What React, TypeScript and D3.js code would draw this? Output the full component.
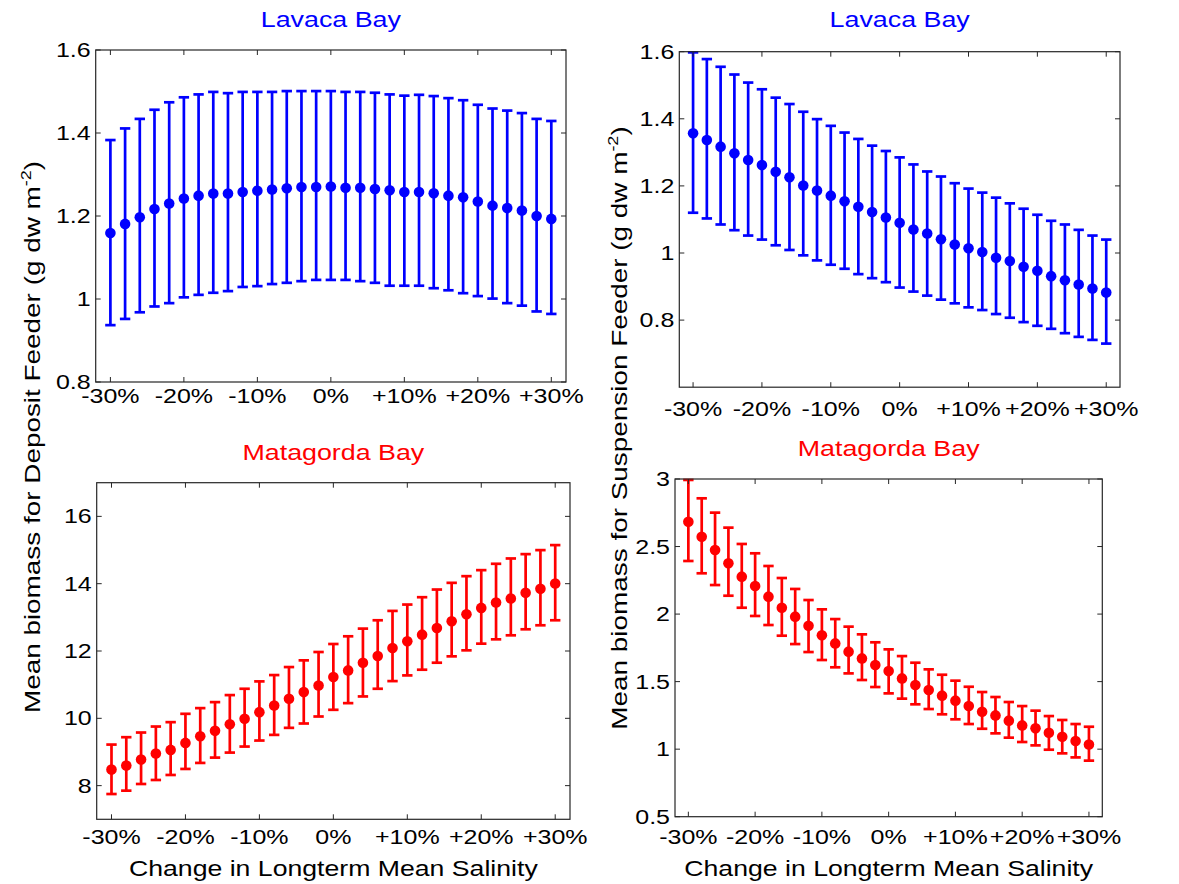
import React from "react";
import * as d3 from "d3";

const salinityChange = [-30, -28, -26, -24, -22, -20, -18, -16, -14, -12, -10, -8, -6, -4, -2, 0, 2, 4, 6, 8, 10, 12, 14, 16, 18, 20, 22, 24, 26, 28, 30];
const xTickValues = [-30, -20, -10, 0, 10, 20, 30];
const xTickLabels = ["-30%", "-20%", "-10%", "0%", "+10%", "+20%", "+30%"];

// Lavaca Bay – deposit feeder
const lavacaDepMean = [1.159, 1.181, 1.197, 1.217, 1.230, 1.242, 1.249, 1.254, 1.254, 1.258, 1.261, 1.264, 1.267, 1.270, 1.270, 1.271, 1.268, 1.268, 1.265, 1.262, 1.258, 1.258, 1.255, 1.249, 1.245, 1.235, 1.225, 1.219, 1.213, 1.200, 1.193];
const lavacaDepHigh = [1.383, 1.411, 1.434, 1.456, 1.474, 1.486, 1.493, 1.499, 1.496, 1.499, 1.499, 1.499, 1.501, 1.501, 1.501, 1.501, 1.499, 1.499, 1.497, 1.493, 1.490, 1.492, 1.489, 1.484, 1.479, 1.468, 1.459, 1.454, 1.448, 1.434, 1.429];
const lavacaDepLow = [0.937, 0.952, 0.968, 0.982, 0.990, 1.004, 1.010, 1.015, 1.019, 1.029, 1.031, 1.036, 1.039, 1.043, 1.046, 1.046, 1.046, 1.043, 1.039, 1.032, 1.032, 1.032, 1.026, 1.021, 1.014, 1.007, 1.001, 0.990, 0.984, 0.970, 0.964];

// Lavaca Bay – suspension feeder
const lavacaSusMean = [1.357, 1.337, 1.317, 1.297, 1.277, 1.262, 1.242, 1.226, 1.201, 1.186, 1.171, 1.154, 1.138, 1.122, 1.106, 1.090, 1.070, 1.058, 1.041, 1.025, 1.014, 1.003, 0.986, 0.976, 0.959, 0.947, 0.931, 0.919, 0.906, 0.894, 0.882];
const lavacaSusHigh = [1.598, 1.578, 1.555, 1.532, 1.508, 1.488, 1.463, 1.444, 1.421, 1.399, 1.379, 1.359, 1.340, 1.320, 1.304, 1.285, 1.264, 1.243, 1.228, 1.208, 1.192, 1.180, 1.165, 1.148, 1.132, 1.114, 1.096, 1.085, 1.069, 1.052, 1.040];
const lavacaSusLow = [1.120, 1.103, 1.085, 1.068, 1.052, 1.040, 1.023, 1.009, 0.993, 0.978, 0.965, 0.953, 0.937, 0.925, 0.913, 0.897, 0.885, 0.873, 0.861, 0.850, 0.838, 0.830, 0.818, 0.807, 0.794, 0.783, 0.774, 0.761, 0.750, 0.741, 0.730];

// Matagorda Bay – deposit feeder
const mataDepMean = [8.476, 8.595, 8.774, 8.953, 9.062, 9.270, 9.469, 9.628, 9.826, 9.985, 10.183, 10.382, 10.580, 10.779, 10.977, 11.226, 11.424, 11.652, 11.851, 12.089, 12.288, 12.486, 12.685, 12.883, 13.092, 13.280, 13.439, 13.558, 13.727, 13.846, 14.005];
const mataDepHigh = [9.220, 9.439, 9.578, 9.756, 9.886, 10.134, 10.303, 10.481, 10.690, 10.878, 11.097, 11.285, 11.523, 11.722, 11.970, 12.208, 12.437, 12.665, 12.913, 13.191, 13.380, 13.598, 13.826, 14.025, 14.223, 14.402, 14.591, 14.749, 14.878, 14.997, 15.146];
const mataDepLow = [7.751, 7.851, 8.049, 8.168, 8.317, 8.496, 8.675, 8.833, 8.982, 9.161, 9.340, 9.508, 9.717, 9.846, 10.054, 10.253, 10.451, 10.650, 10.878, 11.106, 11.275, 11.444, 11.652, 11.841, 12.020, 12.218, 12.347, 12.466, 12.645, 12.764, 12.913];

// Matagorda Bay – suspension feeder
const mataSusMean = [2.684, 2.573, 2.474, 2.376, 2.277, 2.208, 2.129, 2.047, 1.981, 1.914, 1.843, 1.783, 1.722, 1.672, 1.623, 1.578, 1.524, 1.475, 1.438, 1.396, 1.359, 1.319, 1.277, 1.250, 1.211, 1.176, 1.154, 1.122, 1.092, 1.060, 1.035];
const mataSusHigh = [2.993, 2.857, 2.751, 2.640, 2.519, 2.450, 2.356, 2.267, 2.186, 2.104, 2.035, 1.963, 1.907, 1.850, 1.791, 1.739, 1.689, 1.640, 1.591, 1.551, 1.507, 1.462, 1.423, 1.386, 1.349, 1.319, 1.285, 1.245, 1.216, 1.186, 1.166];
const mataSusLow = [2.393, 2.302, 2.215, 2.136, 2.047, 1.986, 1.919, 1.840, 1.778, 1.719, 1.660, 1.606, 1.561, 1.512, 1.460, 1.413, 1.374, 1.332, 1.297, 1.258, 1.221, 1.186, 1.151, 1.117, 1.085, 1.053, 1.028, 0.996, 0.969, 0.939, 0.915];

const yTicksLavacaDep = [0.8, 1, 1.2, 1.4, 1.6];
const yTicksLavacaSus = [0.8, 1, 1.2, 1.4, 1.6];
const yTicksMataDep = [8, 10, 12, 14, 16];
const yTicksMataSus = [0.5, 1, 1.5, 2, 2.5, 3];

const FONT = "'Liberation Sans', Arial, Helvetica, sans-serif";
const SX = 1.22;

type PanelProps = {
  x0: number; x1: number; y0: number; y1: number;
  yDomain: [number, number];
  yTicks: number[];
  mean: number[]; high: number[]; low: number[];
  color: string;
  title: string;
  titleY: number;
  xLabelY: number;
};

function Panel(p: PanelProps) {
  const x = d3.scaleLinear().domain([-32, 32]).range([p.x0, p.x1]);
  const y = d3.scaleLinear().domain(p.yDomain).range([p.y1, p.y0]);
  const tl = 5;
  const axisColor = "#262626";
  const cap = 5.2;
  return (
    <g>
      {salinityChange.map((s, i) => {
        const cx = x(s);
        return (
          <g key={i} stroke={p.color} strokeWidth={2.7} fill="none">
            <line x1={cx} x2={cx} y1={y(p.low[i])} y2={y(p.high[i])} />
            <line x1={cx - cap} x2={cx + cap} y1={y(p.low[i])} y2={y(p.low[i])} />
            <line x1={cx - cap} x2={cx + cap} y1={y(p.high[i])} y2={y(p.high[i])} />
          </g>
        );
      })}
      {salinityChange.map((s, i) => (
        <circle key={"c" + i} cx={x(s)} cy={y(p.mean[i])} r={5.3} fill={p.color} />
      ))}
      <rect x={p.x0} y={p.y0} width={p.x1 - p.x0} height={p.y1 - p.y0} fill="none" stroke={axisColor} strokeWidth={1.2} />
      {xTickValues.map((v, i) => (
        <g key={"xt" + i}>
          <line x1={x(v)} x2={x(v)} y1={p.y1} y2={p.y1 - tl} stroke={axisColor} strokeWidth={1} />
          <line x1={x(v)} x2={x(v)} y1={p.y0} y2={p.y0 + tl} stroke={axisColor} strokeWidth={1} />
          <text
            transform={`translate(${x(v)},${p.xLabelY}) scale(${SX},1)`}
            textAnchor="middle"
            fontFamily={FONT}
            fontSize={20.5}
            fill="#000"
          >
            {xTickLabels[i]}
          </text>
        </g>
      ))}
      {p.yTicks.map((v, i) => (
        <g key={"yt" + i}>
          <line x1={p.x0} x2={p.x0 + tl} y1={y(v)} y2={y(v)} stroke={axisColor} strokeWidth={1} />
          <line x1={p.x1} x2={p.x1 - tl} y1={y(v)} y2={y(v)} stroke={axisColor} strokeWidth={1} />
          <text
            transform={`translate(${p.x0 - 5},${y(v) + 7}) scale(${SX},1)`}
            textAnchor="end"
            fontFamily={FONT}
            fontSize={20.5}
            fill="#000"
          >
            {String(v)}
          </text>
        </g>
      ))}
      <text
        transform={`translate(${(p.x0 + p.x1) / 2},${p.titleY}) scale(1.22,1)`}
        textAnchor="middle"
        fontFamily={FONT}
        fontSize={22}
        fill={p.color}
      >
        {p.title}
      </text>
    </g>
  );
}

function YLabel({ x, y, text }: { x: number; y: number; text: string }) {
  return (
    <text
      transform={`translate(${x},${y}) rotate(-90) scale(1.24,1)`}
      textAnchor="middle"
      fontFamily={FONT}
      fontSize={22.5}
      fill="#000"
    >
      {text}
      <tspan fontSize={14.5} dy={-9}>-2</tspan>
      <tspan dy={9}>)</tspan>
    </text>
  );
}

export default function App() {
  return (
    <svg
      width={1179}
      height={884}
      style={{ position: "absolute", left: 0, top: 0, background: "#fff" }}
    >
      <rect x={0} y={0} width={1179} height={884} fill="#fff" />
      <Panel x0={95.7} x1={566} y0={50} y1={382} yDomain={[0.8, 1.6]} yTicks={yTicksLavacaDep}
        mean={lavacaDepMean} high={lavacaDepHigh} low={lavacaDepLow} color="#0000ff"
        title="Lavaca Bay" titleY={27} xLabelY={403} />
      <Panel x0={679.3} x1={1120} y0={51.7} y1={387.2} yDomain={[0.6, 1.6]} yTicks={yTicksLavacaSus}
        mean={lavacaSusMean} high={lavacaSusHigh} low={lavacaSusLow} color="#0000ff"
        title="Lavaca Bay" titleY={27} xLabelY={416} />
      <Panel x0={96.7} x1={570} y0={482.7} y1={819.3} yDomain={[7, 17]} yTicks={yTicksMataDep}
        mean={mataDepMean} high={mataDepHigh} low={mataDepLow} color="#ff0000"
        title="Matagorda Bay" titleY={460} xLabelY={844} />
      <Panel x0={675} x1={1102.3} y0={479} y1={816.7} yDomain={[0.5, 3]} yTicks={yTicksMataSus}
        mean={mataSusMean} high={mataSusHigh} low={mataSusLow} color="#ff0000"
        title="Matagorda Bay" titleY={456} xLabelY={844} />
      <YLabel x={40} y={437} text="Mean biomass for Deposit Feeder (g dw m" />
      <YLabel x={627} y={428} text="Mean biomass for Suspension Feeder (g dw m" />
      <text transform={`translate(${(96.7 + 570) / 2},876) scale(1.24,1)`} textAnchor="middle" fontFamily={FONT} fontSize={21.5} fill="#000">
        Change in Longterm Mean Salinity
      </text>
      <text transform={`translate(${(675 + 1102.3) / 2},876) scale(1.24,1)`} textAnchor="middle" fontFamily={FONT} fontSize={21.5} fill="#000">
        Change in Longterm Mean Salinity
      </text>
    </svg>
  );
}
